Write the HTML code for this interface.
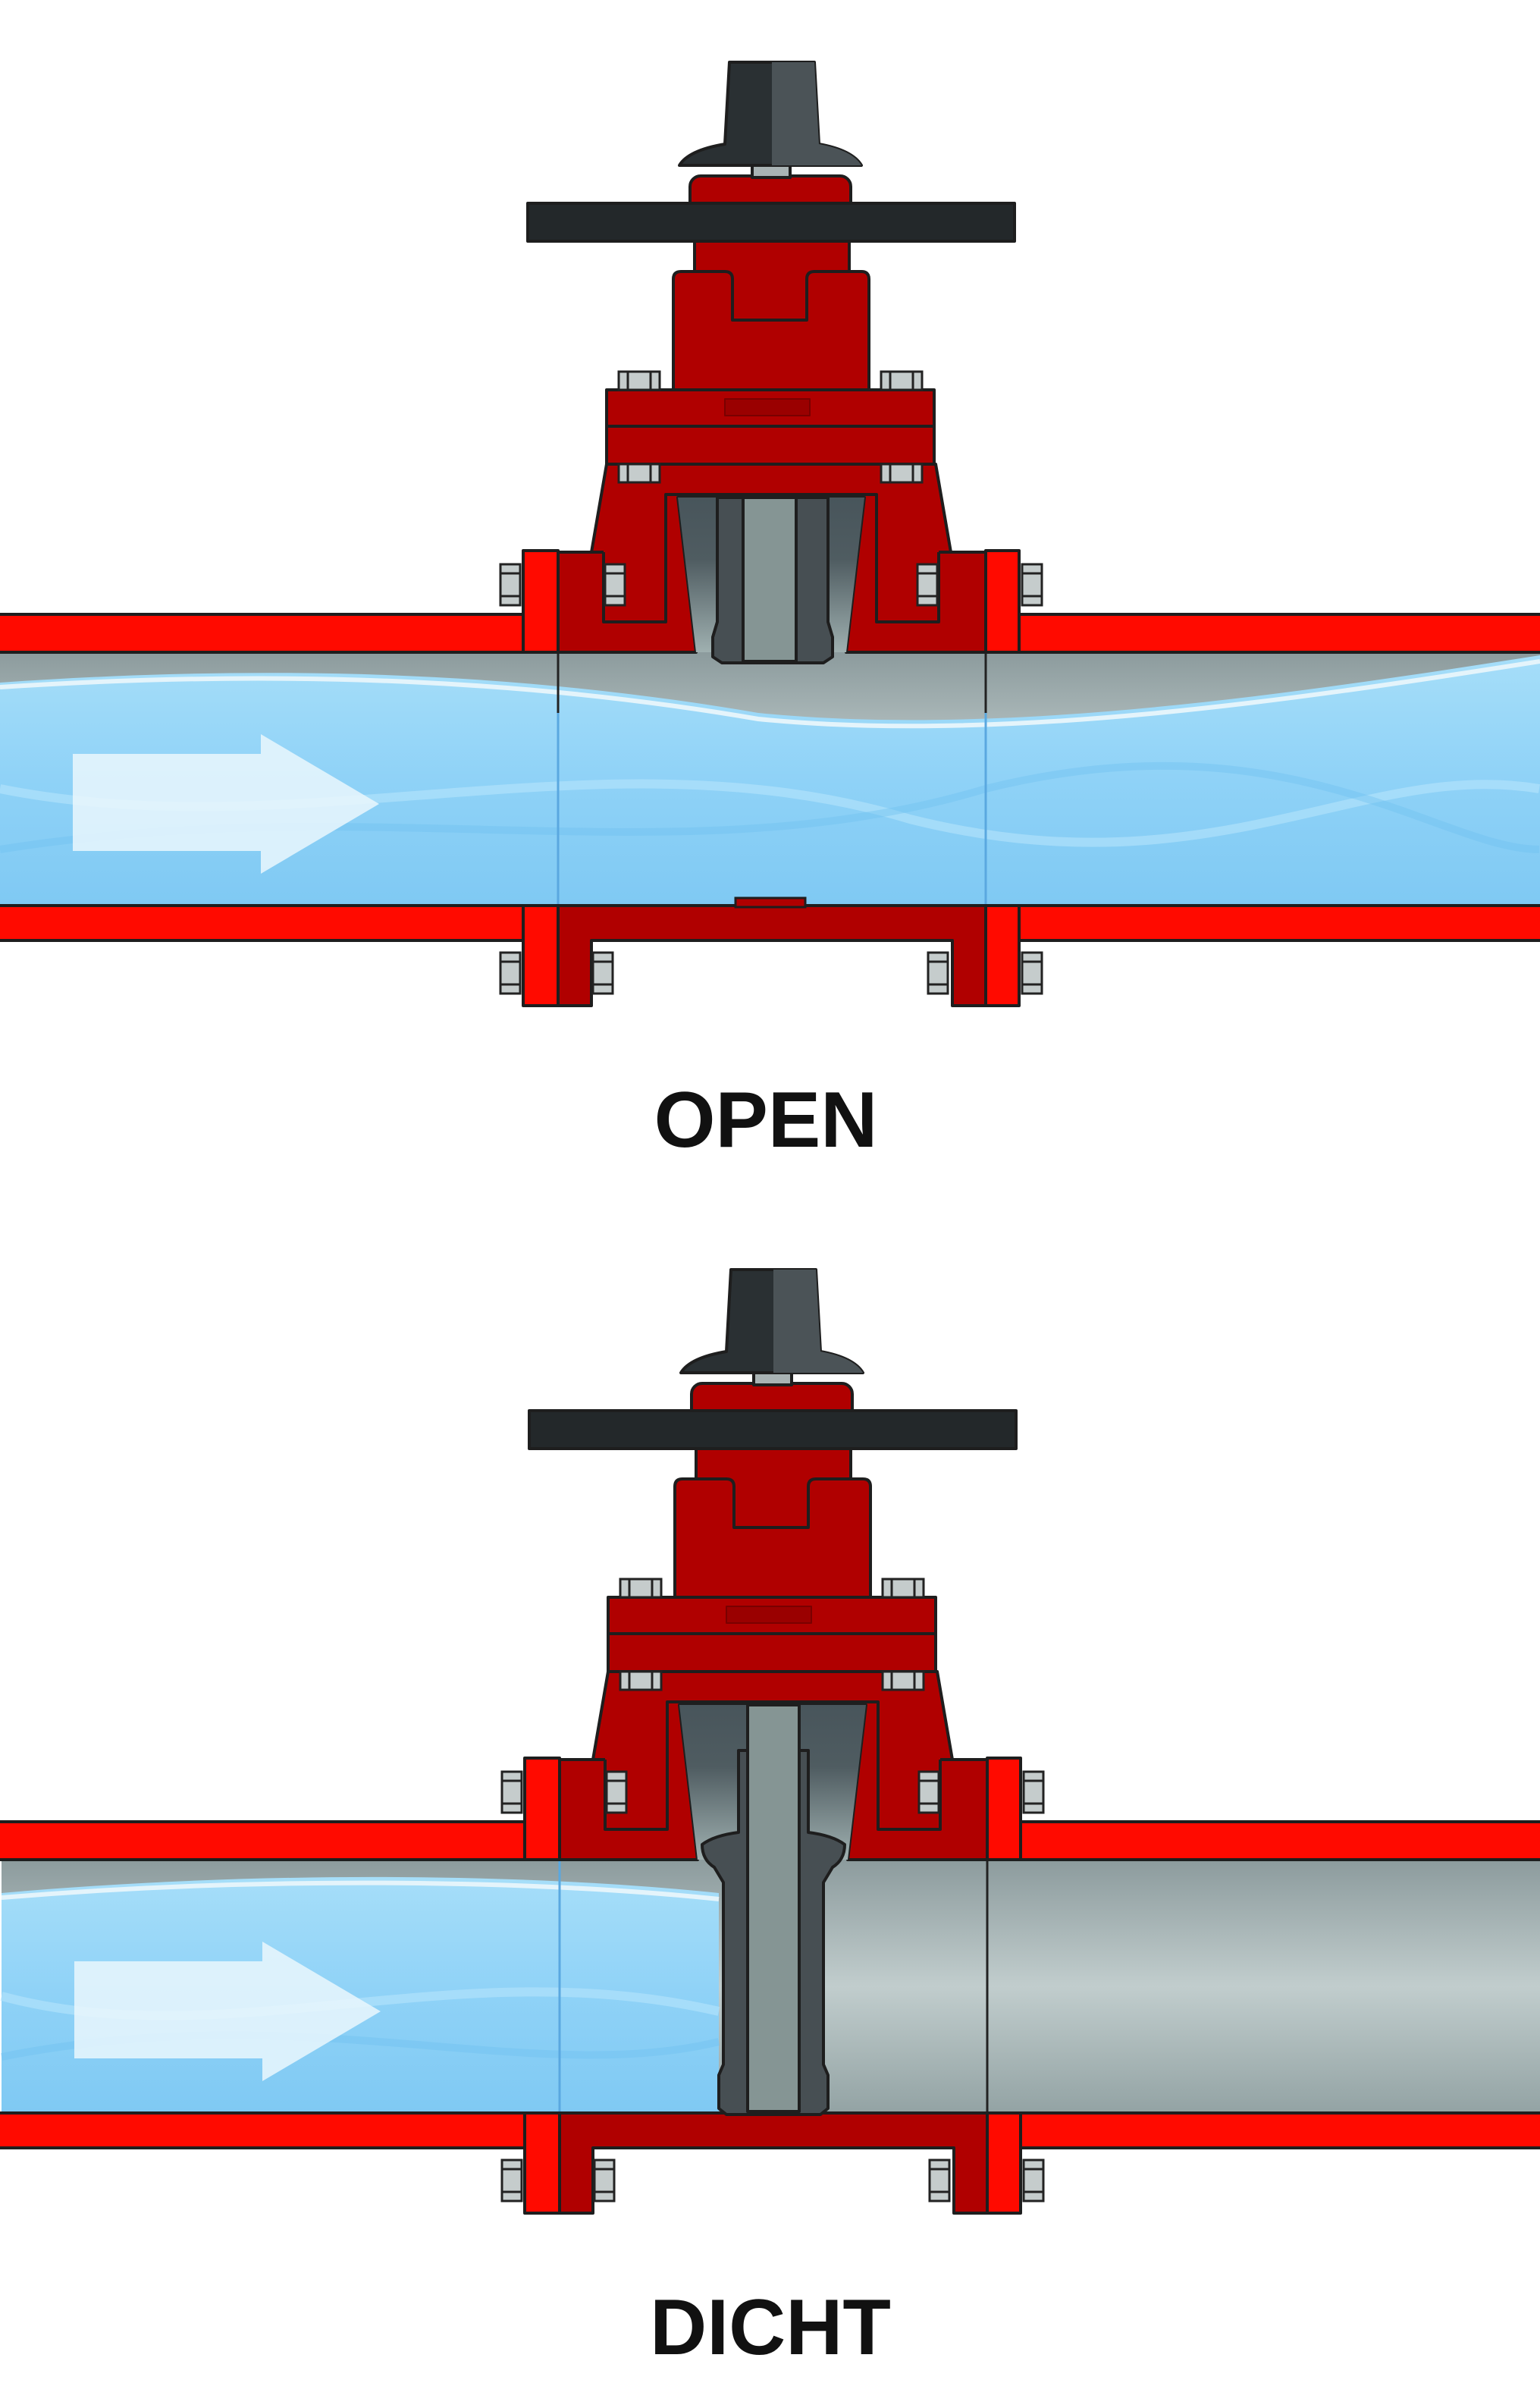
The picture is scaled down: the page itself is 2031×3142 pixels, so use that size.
<!DOCTYPE html>
<html><head><meta charset="utf-8"><style>html,body{margin:0;padding:0;background:#fff}svg{display:block}</style></head>
<body>
<svg width="2031" height="3142" viewBox="0 0 1015.5 1571" xmlns="http://www.w3.org/2000/svg">
<defs>
<linearGradient id="pipeg" x1="0" y1="0" x2="0" y2="1">
<stop offset="0" stop-color="#8c9b9d"/><stop offset="0.5" stop-color="#c1cdcd"/><stop offset="1" stop-color="#93a3a4"/></linearGradient>
<linearGradient id="water" x1="0" y1="0" x2="0" y2="1">
<stop offset="0" stop-color="#a6def9"/><stop offset="0.5" stop-color="#8fd2f7"/><stop offset="1" stop-color="#7fc9f3"/></linearGradient>
<linearGradient id="cav" x1="0" y1="0" x2="0" y2="1">
<stop offset="0" stop-color="#48555b"/><stop offset="0.4" stop-color="#4f5c61"/><stop offset="1" stop-color="#9fb0b0"/></linearGradient>
<g id="bolt"><rect x="0" y="0" width="13" height="27" fill="#c5cccc" stroke="#222" stroke-width="1.5"/><line x1="0" y1="6" x2="13" y2="6" stroke="#222" stroke-width="1.5"/><line x1="0" y1="21" x2="13" y2="21" stroke="#222" stroke-width="1.5"/></g>
<g id="hbolt"><rect x="0" y="0" width="27" height="12" fill="#c5cccc" stroke="#222" stroke-width="1.5"/><line x1="6" y1="0" x2="6" y2="12" stroke="#222" stroke-width="1.5"/><line x1="21" y1="0" x2="21" y2="12" stroke="#222" stroke-width="1.5"/></g>
<g id="body" stroke="#1e1e1e" stroke-width="2" stroke-linejoin="round">
<rect x="-2" y="405" width="349" height="25" fill="#ff0a00"/>
<rect x="670" y="405" width="350" height="25" fill="#ff0a00"/>
<rect x="-2" y="597" width="349" height="23" fill="#ff0a00"/>
<rect x="670" y="597" width="350" height="23" fill="#ff0a00"/>
<rect x="345" y="363" width="23" height="67" fill="#ff0a00"/>
<rect x="650" y="363" width="22" height="67" fill="#ff0a00"/>
<rect x="345" y="597" width="23" height="66" fill="#ff0a00"/>
<rect x="650" y="597" width="22" height="66" fill="#ff0a00"/>
<path d="M368,597 H650 V663 H628 V620 H390 V663 H368 Z" fill="#b00000"/>
<path d="M400,306 H617 L627,364 H650 V430 H558 L570,328 H447 L459,430 H368 V364 H390 Z" fill="#b00000"/>
<polyline points="398,364 398,410 439,410 439,326 578,326 578,410 619,410 619,364" fill="none"/>
<line x1="390" y1="364" x2="398" y2="364"/><line x1="619" y1="364" x2="627" y2="364"/>
<path d="M447,328 H570 L558,430 H459 Z" fill="url(#cav)" stroke="none"/>
<rect x="458" y="140" width="102" height="80" fill="#b00000"/>
<rect x="455" y="116" width="106" height="30" rx="7" fill="#b00000"/>
<rect x="496" y="108" width="25" height="9" fill="#a9b3b4"/>
<path d="M481,41 H537 L540,95 Q562,99 568,109 H448 Q454,99 478,95 Z" fill="#2a3033"/>
<path d="M509,41 H537 L540,95 Q562,99 568,109 H509 Z" fill="#4b5357" stroke="none"/>
<rect x="348" y="134" width="321" height="25" fill="#23282a"/>
<path d="M444,257 V184 q0,-5 5,-5 H478 q5,0 5,5 V211 H532 V184 q0,-5 5,-5 H568 q5,0 5,5 V257 Z" fill="#b00000"/>
<rect x="400" y="257" width="216" height="24" fill="#b00000"/>
<rect x="400" y="281" width="216" height="25" fill="#b00000"/>
<rect x="478" y="263" width="56" height="11" fill="#9a0000" stroke="#7a0000" stroke-width="1"/>
</g>
<g id="bolts">
<use href="#hbolt" x="408" y="245"/><use href="#hbolt" x="581" y="245"/>
<use href="#hbolt" x="408" y="306"/><use href="#hbolt" x="581" y="306"/>
<use href="#bolt" x="330" y="372"/><use href="#bolt" x="399" y="372"/>
<use href="#bolt" x="605" y="372"/><use href="#bolt" x="674" y="372"/>
<use href="#bolt" x="330" y="628"/><use href="#bolt" x="391" y="628"/>
<use href="#bolt" x="612" y="628"/><use href="#bolt" x="674" y="628"/>
</g>
<g id="arrow"><path d="M48,497 H172 V484 L250,530 L172,576 V561 H48 Z" fill="#eaf7fd" opacity="0.85"/></g>
</defs>

<rect x="0" y="430" width="1015.5" height="167" fill="url(#pipeg)"/>
<path d="M0,450 C200,436 360,446 500,470 C660,486 850,458 1015.5,432 V597 H0 Z" fill="url(#water)"/>
<path d="M0,453 C200,440 360,450 500,474 C660,490 850,462 1015.5,436" fill="none" stroke="#e4f4fb" stroke-width="3"/>
<path d="M0,520 C200,560 400,480 600,540 C800,590 900,500 1015,520" fill="none" stroke="#b6e4fb" stroke-width="6" opacity="0.6"/>
<path d="M0,560 C250,520 450,580 650,520 C850,470 950,560 1015,560" fill="none" stroke="#6fc0ef" stroke-width="5" opacity="0.4"/>
<use href="#arrow"/>
<line x1="368" y1="430" x2="368" y2="597" stroke="#5aa8e0" stroke-width="1.5"/>
<line x1="650" y1="430" x2="650" y2="597" stroke="#5aa8e0" stroke-width="1.5"/>
<line x1="368" y1="430" x2="368" y2="470" stroke="#222" stroke-width="1.5"/>
<line x1="650" y1="430" x2="650" y2="470" stroke="#222" stroke-width="1.5"/>
<use href="#body"/>
<rect x="485" y="592" width="46" height="6" fill="#b00000" stroke="#1e1e1e" stroke-width="1.5"/>
<g stroke="#1e1e1e" stroke-width="2" stroke-linejoin="round">
<path d="M473,328 H546 V410 L549,420 V433 L543,437 H476 L470,433 V420 L473,410 Z" fill="#474f53"/>
<rect x="490" y="328" width="35" height="108" fill="#859594"/>
</g>
<use href="#bolts"/>
<text x="505" y="756" text-anchor="middle" font-family="Liberation Sans, sans-serif" font-weight="bold" font-size="52" fill="#111">OPEN</text>

<g transform="translate(1,796)">
<rect x="0" y="430" width="1015.5" height="167" fill="url(#pipeg)"/>
<path d="M0,452 C180,436 360,440 473,452 V597 H0 Z" fill="url(#water)"/>
<path d="M0,455 C180,440 360,444 473,456" fill="none" stroke="#e4f4fb" stroke-width="3"/>
<path d="M0,520 C150,560 300,490 473,530" fill="none" stroke="#b6e4fb" stroke-width="6" opacity="0.6"/>
<path d="M0,560 C200,520 350,580 473,550" fill="none" stroke="#6fc0ef" stroke-width="5" opacity="0.4"/>
<use href="#arrow"/>
<line x1="368" y1="430" x2="368" y2="597" stroke="#5aa8e0" stroke-width="1.5"/>
<line x1="650" y1="430" x2="650" y2="597" stroke="#222" stroke-width="1.5"/>
<use href="#body"/>
<g stroke="#1e1e1e" stroke-width="2" stroke-linejoin="round">
<path d="M486,358 V412 Q470,414 462,420 Q462,430 470,435 L476,445 V565 L473,572 V594 L478,598 H540 L545,594 V572 L542,565 V445 L548,435 Q556,430 556,420 Q548,414 532,412 V358 Z" fill="#474f53"/>
<rect x="492" y="328" width="34" height="268" fill="#859594"/>
</g>
<use href="#bolts"/>
</g>
<text x="508" y="1552" text-anchor="middle" font-family="Liberation Sans, sans-serif" font-weight="bold" font-size="52" fill="#111">DICHT</text>
</svg>
</body></html>
